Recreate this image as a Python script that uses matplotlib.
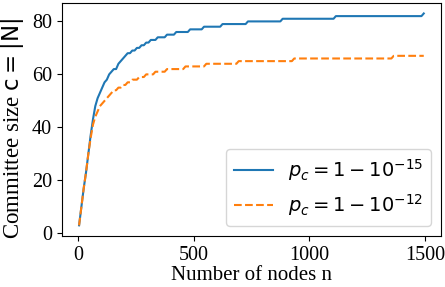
import matplotlib
matplotlib.use("Agg")
import matplotlib.pyplot as plt
import numpy as np

# number of nodes (sampled every 10 nodes)
nodes = np.arange(4, 1500, 10)

# committee size for p_c = 1 - 10^-15
c_15 = [3, 10, 17, 23, 30, 37, 43, 48, 51, 53,
        55, 57, 58, 60, 61, 62, 62, 64, 65, 66,
        67, 68, 68, 69, 69, 70, 70, 71, 71, 72,
        72, 73, 73, 73, 74, 74, 74, 74, 75, 75,
        75, 75, 76, 76, 76, 76, 76, 76, 77, 77,
        77, 77, 77, 77, 78, 78, 78, 78, 78, 78,
        78, 78, 79, 79, 79, 79, 79, 79, 79, 79,
        79, 79, 79, 80, 80, 80, 80, 80, 80, 80,
        80, 80, 80, 80, 80, 80, 80, 80, 81, 81,
        81, 81, 81, 81, 81, 81, 81, 81, 81, 81,
        81, 81, 81, 81, 81, 81, 81, 81, 81, 81,
        81, 82, 82, 82, 82, 82, 82, 82, 82, 82,
        82, 82, 82, 82, 82, 82, 82, 82, 82, 82,
        82, 82, 82, 82, 82, 82, 82, 82, 82, 82,
        82, 82, 82, 82, 82, 82, 82, 82, 82, 83]

# committee size for p_c = 1 - 10^-12
c_12 = [3, 10, 17, 23, 30, 36, 41, 44, 46, 48,
        49, 50, 51, 52, 53, 54, 54, 55, 55, 56,
        56, 57, 57, 58, 58, 58, 59, 59, 59, 60,
        60, 60, 60, 61, 61, 61, 61, 61, 62, 62,
        62, 62, 62, 62, 62, 62, 63, 63, 63, 63,
        63, 63, 63, 63, 63, 64, 64, 64, 64, 64,
        64, 64, 64, 64, 64, 64, 64, 64, 64, 65,
        65, 65, 65, 65, 65, 65, 65, 65, 65, 65,
        65, 65, 65, 65, 65, 65, 65, 65, 65, 65,
        65, 65, 65, 66, 66, 66, 66, 66, 66, 66,
        66, 66, 66, 66, 66, 66, 66, 66, 66, 66,
        66, 66, 66, 66, 66, 66, 66, 66, 66, 66,
        66, 66, 66, 66, 66, 66, 66, 66, 66, 66,
        66, 66, 66, 66, 66, 66, 67, 67, 67, 67,
        67, 67, 67, 67, 67, 67, 67, 67, 67, 67]

plt.rcParams['font.family'] = 'Liberation Serif'
plt.rcParams['mathtext.fontset'] = 'dejavusans'

fig = plt.figure(figsize=(4.45, 2.87), dpi=100)
ax = fig.add_axes([0.139, 0.178, 0.852, 0.812])

ax.plot(nodes, c_15, c='C0', linestyle='solid', label=r"$p_c = 1 - 10^{-15}$")
ax.plot(nodes, c_12, c='C1', linestyle='dashed', label=r"$p_c = 1 - 10^{-12}$")

ax.set_xticks([0, 500, 1000, 1500])
ax.set_yticks([0, 20, 40, 60, 80])
ax.tick_params(labelsize=14.5)
ax.set_xlabel("Number of nodes n", fontsize=15, labelpad=1)
ax.set_ylabel(r"Committee size $\mathsf{c = |N|}$", fontsize=16.5)
ax.yaxis.set_label_coords(-0.095, 0.46)
ax.legend(loc='lower right', fontsize=14)

fig.savefig("out.png", dpi=100)
